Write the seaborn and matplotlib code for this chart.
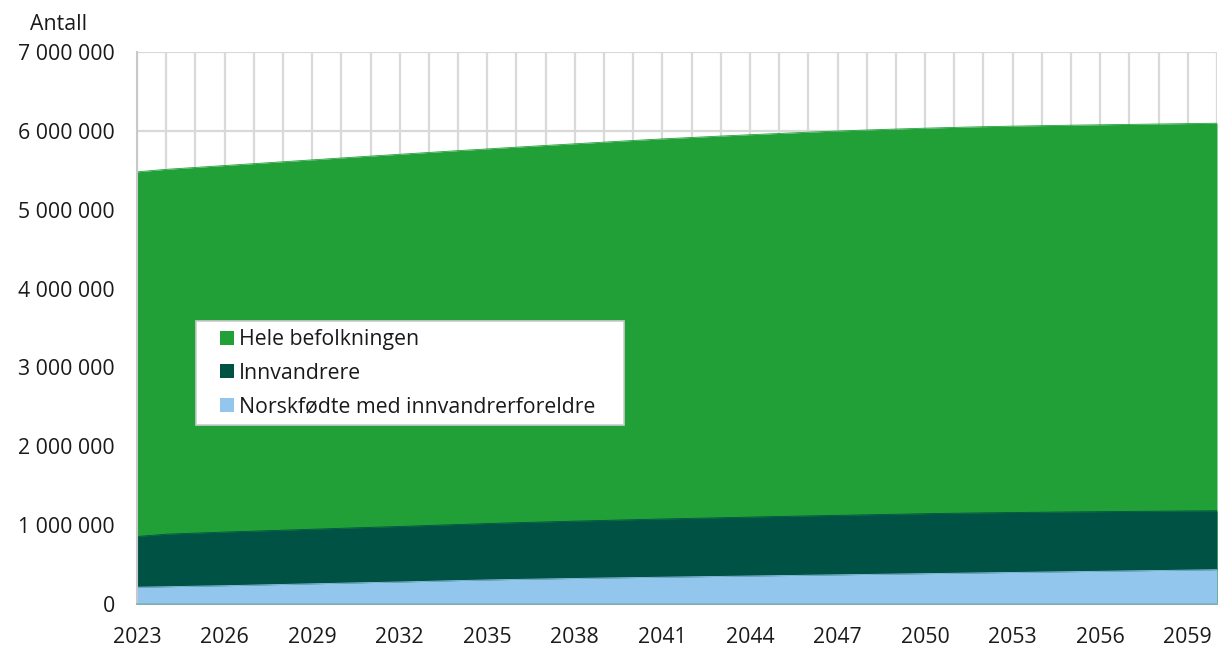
import numpy as np
import pandas as pd
import seaborn as sns
import matplotlib
matplotlib.use("Agg")
import matplotlib.pyplot as plt
from matplotlib.patches import Patch, Rectangle
from matplotlib.legend_handler import HandlerBase
from matplotlib.ticker import FuncFormatter, MultipleLocator

years = list(range(2023, 2061))

hele = [5.480, 5.512, 5.536, 5.560, 5.584, 5.608, 5.632, 5.656, 5.680, 5.703,
        5.726, 5.749, 5.771, 5.793, 5.815, 5.836, 5.857, 5.878, 5.898, 5.916,
        5.934, 5.951, 5.967, 5.983, 5.998, 6.011, 6.023, 6.034, 6.044, 6.053,
        6.060, 6.066, 6.072, 6.077, 6.082, 6.087, 6.092, 6.097]

innvandrere = [0.856, 0.885, 0.899, 0.912, 0.924, 0.936, 0.948, 0.960, 0.972, 0.983,
               0.996, 1.008, 1.020, 1.031, 1.041, 1.051, 1.060, 1.069, 1.078, 1.086,
               1.094, 1.102, 1.110, 1.117, 1.124, 1.131, 1.138, 1.145, 1.151, 1.156,
               1.160, 1.164, 1.168, 1.171, 1.174, 1.177, 1.180, 1.182]

norskfodte = [0.213, 0.219, 0.226, 0.232, 0.240, 0.248, 0.256, 0.264, 0.272, 0.279,
              0.288, 0.297, 0.305, 0.312, 0.318, 0.324, 0.330, 0.335, 0.340, 0.345,
              0.350, 0.355, 0.360, 0.365, 0.370, 0.375, 0.380, 0.385, 0.390, 0.395,
              0.400, 0.405, 0.410, 0.415, 0.420, 0.425, 0.430, 0.435]

series_names = ["Hele befolkningen", "Innvandrere", "Norskfødte med innvandrerforeldre"]
colors = ["#21a038", "#005245", "#93c6ec"]
x_ticks = list(range(2023, 2060, 3))

df = pd.DataFrame({
    "År": years,
    series_names[0]: np.array(hele) * 1e6,
    series_names[1]: np.array(innvandrere) * 1e6,
    series_names[2]: np.array(norskfodte) * 1e6,
})

FS = 15.3


class SquareHandler(HandlerBase):
    def create_artists(self, legend, orig_handle, xdescent, ydescent,
                       width, height, fontsize, trans):
        s = 0.66 * fontsize
        x0 = width - xdescent - s
        y0 = -ydescent + (height - s) / 2
        r = Rectangle((x0, y0), s, s, facecolor=orig_handle.get_facecolor(),
                      edgecolor="none", transform=trans)
        return [r]


sns.set_theme(style="white")
plt.rcParams["font.family"] = ["Open Sans", "DejaVu Sans"]

fig = plt.figure(figsize=(12.19, 6.48), dpi=100)
ax = fig.add_axes([137/1219, 1-604/648, 1080/1219, 552/648])

for name, col in zip(series_names, colors):
    ax.fill_between(df["År"], 0, df[name], color=col, linewidth=0, zorder=2)
    sns.lineplot(data=df, x="År", y=name, ax=ax, color=col, linewidth=0.6, zorder=2.5)

ax.set_xlim(2023, 2060)
ax.set_ylim(0, 7e6)
ax.yaxis.set_major_locator(MultipleLocator(1e6))
ax.set_axisbelow(True)
ax.grid(True, axis="both", color="#d9d9d9", linewidth=1.6, zorder=0)

ax.set_xticks(years)
ax.set_xticklabels([str(y) if y in x_ticks else "" for y in years])
ax.yaxis.set_major_formatter(FuncFormatter(lambda v, p: f"{int(round(v)):,}".replace(",", " ")))
ax.tick_params(axis="x", length=0, pad=16.5, labelsize=FS, colors="#1a1a1a")
ax.tick_params(axis="y", length=0, pad=16, labelsize=FS, colors="#1a1a1a")
ax.set_xlabel("")
ax.set_ylabel("")

for s in ["top", "right"]:
    ax.spines[s].set_visible(False)
ax.spines["left"].set_color("#c8c8c8")
ax.spines["left"].set_linewidth(1.5)
ax.spines["bottom"].set_color("#7fb3b8")
ax.spines["bottom"].set_linewidth(1.2)
ax.spines["bottom"].set_zorder(3)

fig.text(30/1219, 1-25/648, "Antall", fontsize=FS, color="#1a1a1a", ha="left", va="center")

handles = [Patch(facecolor=c, edgecolor="none") for c in colors]
x0 = (196-137)/1080
y_top = (604-321)/552
y_bot = (604-423)/552
w = (624-196)/1080
leg = ax.legend(handles, series_names, loc="upper left",
                bbox_to_anchor=(x0, y_bot, w, y_top - y_bot), mode="expand",
                borderaxespad=0, fontsize=FS, frameon=True, fancybox=False,
                framealpha=1, edgecolor="#cccccc", handlelength=1.41,
                handleheight=0.7, handletextpad=0.25, labelspacing=0.59,
                borderpad=0.38, handler_map={Patch: SquareHandler()})
leg.get_frame().set_linewidth(1.2)
for t in leg.get_texts():
    t.set_color("#1a1a1a")
leg.set_zorder(5)

fig.savefig("out.png", dpi=100)
